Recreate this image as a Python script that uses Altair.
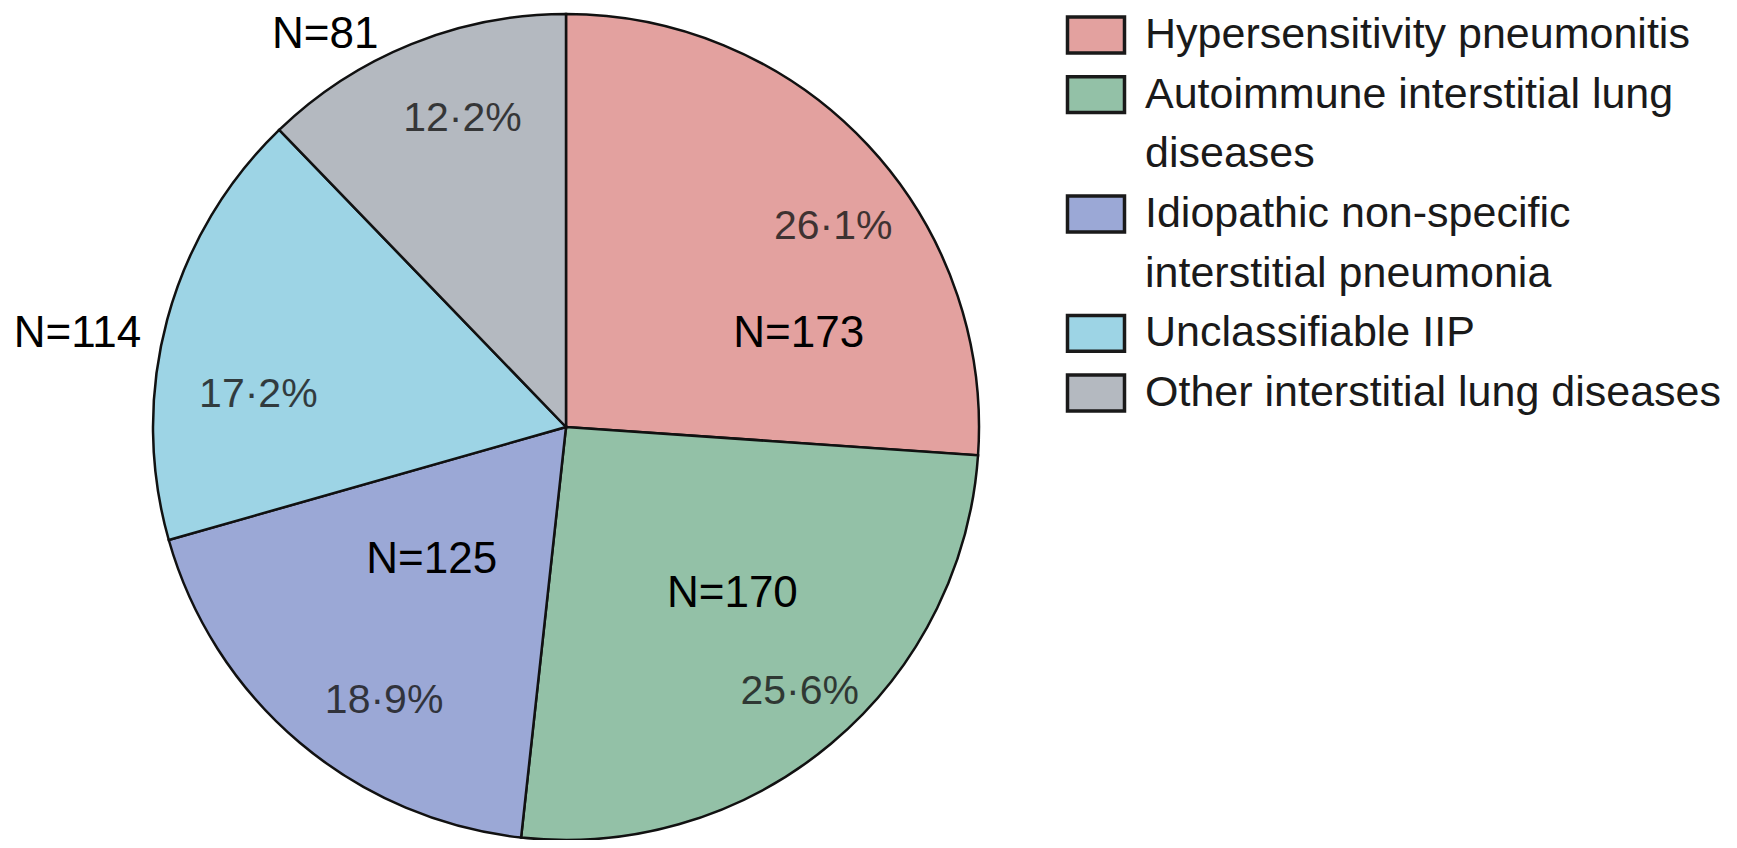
import altair as alt
import pandas as pd

# ---------------- data ----------------
categories = [
    "Hypersensitivity pneumonitis",
    "Autoimmune interstitial lung diseases",
    "Idiopathic non-specific interstitial pneumonia",
    "Unclassifiable IIP",
    "Other interstitial lung diseases",
]
counts = [173, 170, 125, 114, 81]
n_labels = ["N=173", "N=170", "N=125", "N=114", "N=81"]
percent_labels = ["26·1%", "25·6%", "18·9%", "17·2%", "12·2%"]
legend_lines = [
    ["Hypersensitivity pneumonitis"],
    ["Autoimmune interstitial lung", "diseases"],
    ["Idiopathic non-specific", "interstitial pneumonia"],
    ["Unclassifiable IIP"],
    ["Other interstitial lung diseases"],
]
colors = ["#E3A19F", "#93C1A7", "#9BA8D6", "#9DD4E5", "#B4B9C0"]

# ---------------- layout / style (not data) ----------------
W, H = 1721, 832
CX, CY = 558, 419
R = 413
PCT_R = 330
N_IN_R, N_OUT_R = 250, 480
n_nudge = {0: (N_IN_R, 50, 78), 1: (N_IN_R, 6, -25), 2: (N_IN_R, 27, -58),
           3: (N_OUT_R, -25, 32), 4: (N_OUT_R, -61, 53)}
pct_nudge = {0: (26, 25), 1: (22, 12), 2: (31, 22), 3: (11, 54), 4: (20, -2)}
LEG_SYM_X, LEG_TXT_X = 1088, 1137
LEG_Y0, LEG_Y1 = 27, 385
FONT = "Liberation Sans, Arial, sans-serif"

pie_df = pd.DataFrame({
    "idx": list(range(len(categories))),
    "cat": categories,
    "N": counts,
    "nlab": n_labels,
    "plab": percent_labels,
})

sym_rows, txt_rows = [], []
li = 0
for cat, lines in zip(categories, legend_lines):
    sym_rows.append({"cat": cat, "line": li})
    for t in lines:
        txt_rows.append({"text": t, "line": li})
        li += 1
sym_df = pd.DataFrame(sym_rows)
txt_df = pd.DataFrame(txt_rows)

color_scale = alt.Scale(domain=categories, range=colors)

arcs = alt.Chart(pie_df).mark_arc(
    outerRadius=R, stroke="#111111", strokeWidth=2.5
).encode(
    theta=alt.Theta("N:Q", stack=True),
    order=alt.Order("idx:Q"),
    color=alt.Color("cat:N", scale=color_scale, legend=None),
    x=alt.value(CX),
    y=alt.value(CY),
)

base = alt.Chart(pie_df).transform_window(
    cum="sum(N)", sort=[alt.SortField("idx")]
).transform_calculate(mid="datum.cum - datum.N / 2")

layers = [arcs]
for i in range(len(categories)):
    r, dx, dy = n_nudge[i]
    layers.append(
        base.transform_filter(alt.datum.idx == i).mark_text(
            radius=r, dx=dx, dy=dy, font=FONT, fontSize=44,
            align="center", baseline="middle", color="black"
        ).encode(theta=alt.Theta("mid:Q"), text="nlab:N",
                 x=alt.value(CX), y=alt.value(CY))
    )
    pdx, pdy = pct_nudge[i]
    layers.append(
        base.transform_filter(alt.datum.idx == i).mark_text(
            radius=PCT_R, dx=pdx, dy=pdy, font=FONT, fontSize=41,
            align="center", baseline="middle", color="#1a1a1a", opacity=0.82
        ).encode(theta=alt.Theta("mid:Q"), text="plab:N",
                 x=alt.value(CX), y=alt.value(CY))
    )

yscale = alt.Scale(domain=[0, 6], range=[LEG_Y0, LEG_Y1])
rect_path = "M-1,-0.63L1,-0.63L1,0.63L-1,0.63Z"
leg_sym = alt.Chart(sym_df).mark_point(
    shape=rect_path, size=57 * 57, filled=True, opacity=1,
    stroke="#1a1a1a", strokeWidth=3.5
).encode(
    y=alt.Y("line:Q", scale=yscale, axis=None),
    x=alt.value(LEG_SYM_X),
    color=alt.Color("cat:N", scale=color_scale, legend=None),
)
leg_txt = alt.Chart(txt_df).mark_text(
    align="left", baseline="middle", font=FONT, fontSize=43, color="#1a1a1a"
).encode(
    y=alt.Y("line:Q", scale=yscale, axis=None),
    x=alt.value(LEG_TXT_X),
    text="text:N",
)
layers += [leg_sym, leg_txt]

chart = alt.layer(*layers).properties(
    width=W, height=H, padding=0,
    autosize=alt.AutoSizeParams(type="none"),
    background="white",
).configure_view(stroke=None)

chart.save("out.html", embed_options={"renderer": "svg", "actions": False})
